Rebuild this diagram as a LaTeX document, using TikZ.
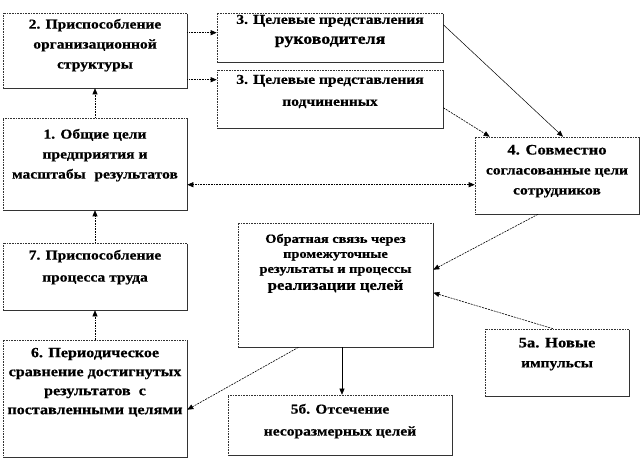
\documentclass[tikz,border=0pt]{standalone}
\usepackage{fontspec}
\setmainfont[FakeStretch=1.15, BoldFeatures={FakeBold=0.6}]{Liberation Serif}
\usetikzlibrary{arrows.meta,positioning,shadows}
\begin{document}
\begin{tikzpicture}[x=1pt,y=-1pt,
  box/.style={draw=black!80, densely dotted, line width=0.6pt, fill=white,
    drop shadow={shadow xshift=1.2pt, shadow yshift=-1.2pt, fill=black!80, opacity=1},
    inner sep=0pt},
  txt/.style={align=center, font=\bfseries\fontsize{13.5}{20}\selectfont, inner sep=0pt, anchor=north},
  arr/.style={-{Triangle[length=6pt,width=5pt]}, line width=0.6pt},
  dotarr/.style={arr, densely dotted},
  dasharr/.style={arr, dash pattern=on 2pt off 1pt},
]
\useasboundingbox (0,0) rectangle (642,470);
\newcommand{\bx}[5]{\node[box, minimum width=#4-#2, minimum height=#5-#3] (#1) at ({(#2+#4)/2},{(#3+#5)/2}) {};}
\bx{b2}{3}{13}{187}{88}
\bx{b3a}{217}{13}{443}{62}
\bx{b3b}{217}{70}{443}{128}
\bx{b4}{475}{137}{639}{214}
\bx{b1}{3}{118}{187}{210}
\bx{b7}{3}{243}{187}{310}
\bx{b6}{3}{340}{187}{457}
\bx{bF}{238}{223}{433}{347}
\bx{b5b}{228}{395}{452}{455}
\bx{b5a}{485}{329}{629}{396}

\node[txt, below=6pt of b2.north] (t2) {2. Приспособление\\организационной\\структуры};
\node[txt, below=2pt of b3a.north] (t3a) {3. Целевые представления\\{\fontsize{15.5}{20}\selectfont руководителя}};
\node[txt, below=5pt of b3b.north] (t3b) {3. Целевые представления\\[2pt]подчиненных};
\node[txt, below=8pt of b4.north] (t4) {{\fontsize{14.5}{20}\selectfont 4. Совместно}\\согласованные цели\\сотрудников};
\node[txt, below=11pt of b1.north] (t1) {1. Общие цели\\предприятия и\\масштабы\hspace{0.35em} результатов};
\node[txt, below=7pt of b7.north] (t7) {7. Приспособление\\[2pt]процесса труда};
\node[txt, below=8pt of b6.north, font=\bfseries\fontsize{14}{19}\selectfont] (t6) {6. Периодическое\\сравнение достигнутых\\результатов~ с\\поставленными целями};
\node[txt, below=11pt of bF.north, font=\bfseries\fontsize{12.5}{15}\selectfont] (tF) {Обратная связь через\\промежуточные\\результаты и процессы\\[2pt]{\fontsize{14.5}{20}\selectfont реализации целей}};
\node[txt, below=9pt of b5b.north] (t5b) {5б. Отсечение\\[2pt]несоразмерных целей};
\node[txt, below=9pt of b5a.north] (t5a) {{\fontsize{14.5}{20}\selectfont 5а. Новые}\\импульсы};

% connectors
\coordinate (c3a) at ([yshift=-20pt]b3a.north west);
\coordinate (c3b) at ([yshift=-10pt]b3b.north west);
\draw[dotarr] (b2.east |- c3a) -- (c3a);
\draw[dotarr] (b2.east |- c3b) -- (c3b);
\draw[arr, line width=0.5pt] ([yshift=-12pt]b3a.north east) -- ([xshift=6pt]b4.north);
\draw[dasharr] ([yshift=-38pt]b3b.north east) -- ([xshift=15pt]b4.north west);
\coordinate (c4) at ([yshift=-48pt]b4.north west);
\draw[dotarr, {Triangle[length=6pt,width=5pt]}-{Triangle[length=6pt,width=5pt]}] (b1.east |- c4) -- (c4);
\draw[dotarr] (b1.north) -- (b2.south);
\draw[dotarr] (b7.north) -- (b1.south);
\draw[dotarr] (b6.north) -- (b7.south);
\draw[dasharr] ([xshift=-19pt]b4.south) -- ([yshift=-47pt]bF.north east);
\draw[dasharr] ([xshift=-4pt]b5a.north) -- ([yshift=-70pt]bF.north east);
\draw[dasharr] ([xshift=-37pt]bF.south) -- ([yshift=-70pt]b6.north east);
\coordinate (cF) at ([xshift=6.5pt]bF.south);
\draw[arr, line width=0.5pt] (cF) -- (cF |- b5b.north);
\end{tikzpicture}
\end{document}
